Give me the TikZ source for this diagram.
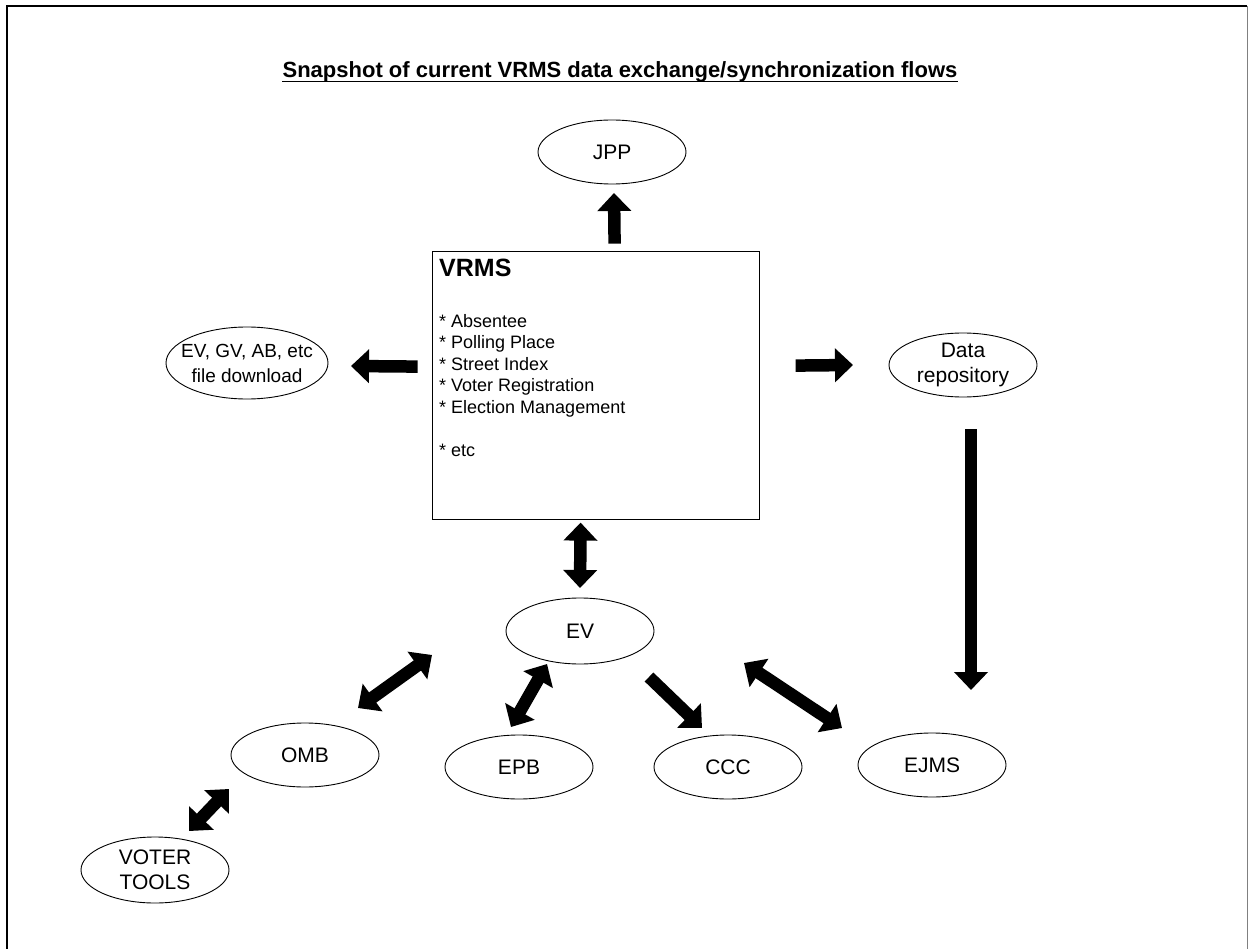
\documentclass[tikz,border=0pt]{standalone}
\usepackage{fontspec}
\setmainfont{Liberation Sans}
\usetikzlibrary{shapes.geometric,arrows.meta,calc}
\begin{document}
\begin{tikzpicture}[x=1pt,y=-1pt,
  oval/.style={ellipse,draw,line width=0.9pt,minimum width=148pt,minimum height=64pt,inner sep=0pt},
  lbl/.style={align=center,inner sep=0pt,font=\fontsize{21}{24.5}\selectfont},
  fat/.style={line width=12.5pt,-{Triangle[width=33pt,length=18pt]}},
  fatd/.style={line width=12.5pt,{Triangle[width=33pt,length=18pt]}-{Triangle[width=33pt,length=18pt]}}]
\useasboundingbox (0,0) rectangle (1249,949);
% frame
\draw[line width=1.5pt] (7,970) -- (7,6) -- (1247,6);
\draw[line width=1pt,black!50] (1247,6) -- (1247,970);
% title
\node[anchor=base,inner sep=0pt,font=\fontsize{22}{26}\selectfont\bfseries] (title) at (620,78)
  {Snapshot of current VRMS data exchange/synchronization flows};
\draw[line width=1.3pt] ([yshift=-3.5pt]title.base west) -- ([yshift=-3.5pt]title.base east);
% VRMS box
\node[draw,line width=1.2pt,minimum width=327pt,minimum height=268pt,anchor=north west,inner sep=0pt] (vrms) at (432,251) {};
\node[anchor=base west,inner sep=0pt,font=\fontsize{25}{30}\selectfont\bfseries] (vrmsname) at (439,277) {VRMS};
\node[anchor=north west,inner sep=0pt,align=left,font=\fontsize{18}{21.5}\selectfont] (vrmslist) at (439,314)
  {* Absentee\\* Polling Place\\* Street Index\\* Voter Registration\\* Election Management\\[21.5pt]* etc};
% ovals
\node[oval,label={[lbl]center:JPP}] (jpp) at (612,152) {};
\node[oval,minimum width=162pt,minimum height=72pt,label={[lbl,font=\fontsize{19}{25}\selectfont]center:{EV, GV, AB, etc\\file download}}] (fdl) at (247,363) {};
\node[oval,label={[lbl]center:{Data\\repository}}] (dr) at (963,365) {};
\node[oval,minimum height=66pt,label={[lbl]center:EV}] (ev) at (580,631) {};
\node[oval,label={[lbl]center:OMB}] (omb) at (305,755) {};
\node[oval,label={[lbl]center:EPB}] (epb) at (519,767) {};
\node[oval,label={[lbl]center:CCC}] (ccc) at (728,767) {};
\node[oval,label={[lbl]center:EJMS}] (ejms) at (932,765) {};
\node[oval,minimum height=66pt,label={[lbl]center:{VOTER\\TOOLS}}] (vt) at (155,870) {};
% arrows
\draw[fat] ($(vrms)+(18.5,-142)$) -- ($(jpp)+(2,41)$);
\draw[fat] ($(vrms)+(-178.5,-19)$) -- ($(fdl)+(104,3)$);
\draw[fat] ($(vrms)+(199.5,-20)$) -- ($(dr)+(-110,0)$);
\draw[fat] ($(dr)+(8,64)$) -- ($(ejms)+(39,-75)$);
\draw[fatd] ($(vrms)+(-15.5,137)$) -- ($(ev)+(0,-43)$);
\draw[fatd] ($(omb)+(53,-47)$) -- ($(ev)+(-148,24)$);
\draw[fatd] ($(epb)+(-8,-40)$) -- ($(ev)+(-33,33)$);
\draw[fat] ($(ev)+(69,46)$) -- ($(ccc)+(-26,-39)$);
\draw[fatd] ($(ev)+(164,32)$) -- ($(ejms)+(-90,-37)$);
\draw[fatd] ($(vt)+(34,-39)$) -- ($(omb)+(-76,34)$);
\end{tikzpicture}
\end{document}
